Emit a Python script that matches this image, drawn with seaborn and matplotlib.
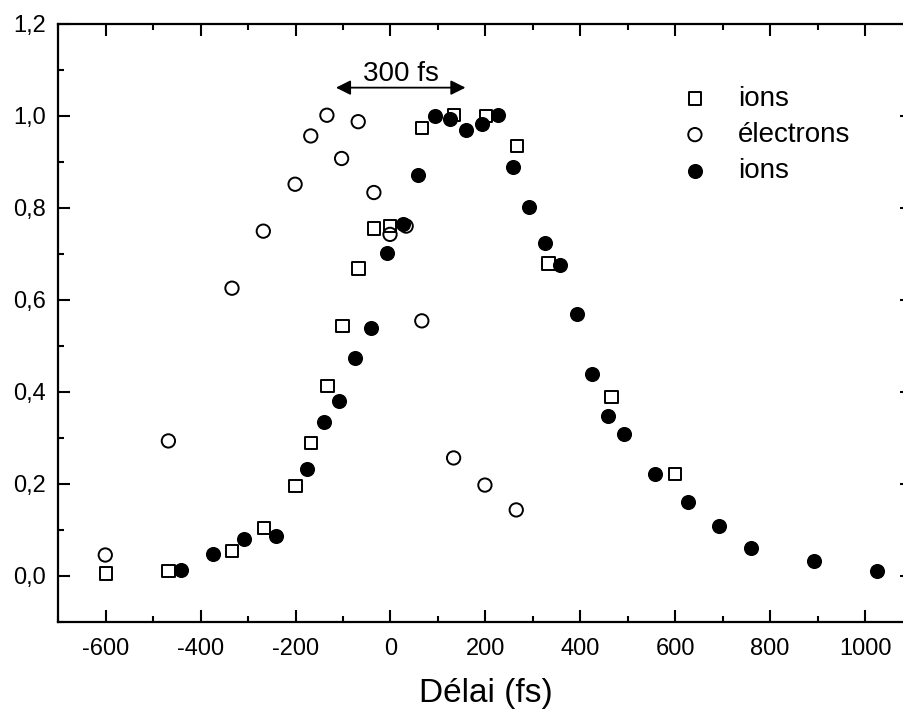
import matplotlib
matplotlib.use("Agg")
import matplotlib.pyplot as plt
from matplotlib.ticker import MultipleLocator, FuncFormatter
import seaborn as sns
import pandas as pd

# ions (carrés vides)
ions_sq_x = [-600, -468, -334, -266, -200, -167, -133, -101, -67, -35, -1,
             66, 134, 201, 266, 333, 466, 600]
ions_sq_y = [0.005, 0.010, 0.054, 0.104, 0.195, 0.288, 0.412, 0.543, 0.668, 0.755, 0.760,
             0.973, 1.001, 0.999, 0.934, 0.679, 0.389, 0.221]

# électrons (cercles vides)
elec_x = [-601, -468, -334, -268, -201, -168, -134, -103, -68, -35, -1,
          33, 66, 133, 199, 265]
elec_y = [0.045, 0.293, 0.625, 0.749, 0.851, 0.956, 1.001, 0.907, 0.987, 0.833, 0.742,
          0.760, 0.554, 0.256, 0.197, 0.143]

# ions (cercles pleins)
ions_ci_x = [-441, -374, -308, -241, -175, -141, -108, -75, -41, -8, 26, 59,
             93, 126, 159, 192, 226, 259, 291, 326, 357, 393, 425, 459, 492,
             558, 626, 692, 759, 893, 1026]
ions_ci_y = [0.013, 0.047, 0.079, 0.086, 0.232, 0.335, 0.380, 0.473, 0.538, 0.702, 0.765, 0.871,
             1.000, 0.992, 0.969, 0.982, 1.001, 0.888, 0.801, 0.724, 0.675, 0.570, 0.438, 0.348, 0.309,
             0.221, 0.160, 0.109, 0.060, 0.033, 0.011]

legend_labels = ["ions", "électrons", "ions"]

sns.set_style("ticks")
plt.rcParams['font.family'] = ['Liberation Sans', 'DejaVu Sans']
plt.rcParams['axes.unicode_minus'] = False
plt.rcParams['text.color'] = 'black'
plt.rcParams['axes.labelcolor'] = 'black'
plt.rcParams['xtick.color'] = 'black'
plt.rcParams['ytick.color'] = 'black'

fig = plt.figure(figsize=(9.04, 7.12), dpi=100)
ax = fig.add_axes([58.3 / 904, (712 - 621.7) / 712, 854.2 / 904, 598 / 712])

df_sq = pd.DataFrame({'x': ions_sq_x, 'y': ions_sq_y})
df_el = pd.DataFrame({'x': elec_x, 'y': elec_y})
df_ci = pd.DataFrame({'x': ions_ci_x, 'y': ions_ci_y})

sns.scatterplot(data=df_sq, x='x', y='y', marker='s', s=80, facecolors='none',
                edgecolor='black', linewidth=1.4, ax=ax, label=legend_labels[0], zorder=3)
sns.scatterplot(data=df_el, x='x', y='y', marker='o', s=92, facecolors='none',
                edgecolor='black', linewidth=1.4, ax=ax, label=legend_labels[1], zorder=5)
sns.scatterplot(data=df_ci, x='x', y='y', marker='o', s=118, color='black',
                edgecolor='black', linewidth=0, ax=ax, label=legend_labels[2], zorder=4)

ax.set_xlim(-700, 1100)
ax.set_ylim(-0.1, 1.2)
ax.xaxis.set_major_locator(MultipleLocator(200))
ax.xaxis.set_minor_locator(MultipleLocator(100))
ax.yaxis.set_major_locator(MultipleLocator(0.2))
ax.yaxis.set_minor_locator(MultipleLocator(0.1))
ax.xaxis.set_major_formatter(FuncFormatter(lambda v, p: f"{v:.0f}"))
ax.yaxis.set_major_formatter(FuncFormatter(lambda v, p: f"{abs(v) if abs(v) < 1e-9 else v:.1f}".replace('.', ',')))

ax.tick_params(which='both', direction='in', top=True, right=True, width=1.5, color='black')
ax.tick_params(which='major', length=8.5, labelsize=17, pad=9)
ax.tick_params(axis='x', which='major', pad=12)
ax.tick_params(which='minor', length=4.3)
for sp in ax.spines.values():
    sp.set_linewidth(1.6)
    sp.set_color('black')

ax.set_xlabel("Délai (fs)", fontsize=24, labelpad=13)
ax.set_ylabel("")

# flèche 300 fs
ax.annotate("", xy=(-115, 1.061), xytext=(158, 1.061),
            arrowprops=dict(arrowstyle='<|-|>', color='black', lw=1.3,
                            mutation_scale=22, shrinkA=0, shrinkB=0))
ax.text(21, 1.09, "300 fs", ha='center', va='center', fontsize=20)

ax.legend(loc='upper left', bbox_to_anchor=(0.716, 0.915), frameon=False, fontsize=20,
          handlelength=1.0, handletextpad=1.05, labelspacing=0.37, borderaxespad=0)

plt.savefig("out.png", dpi=100)
plt.close()
